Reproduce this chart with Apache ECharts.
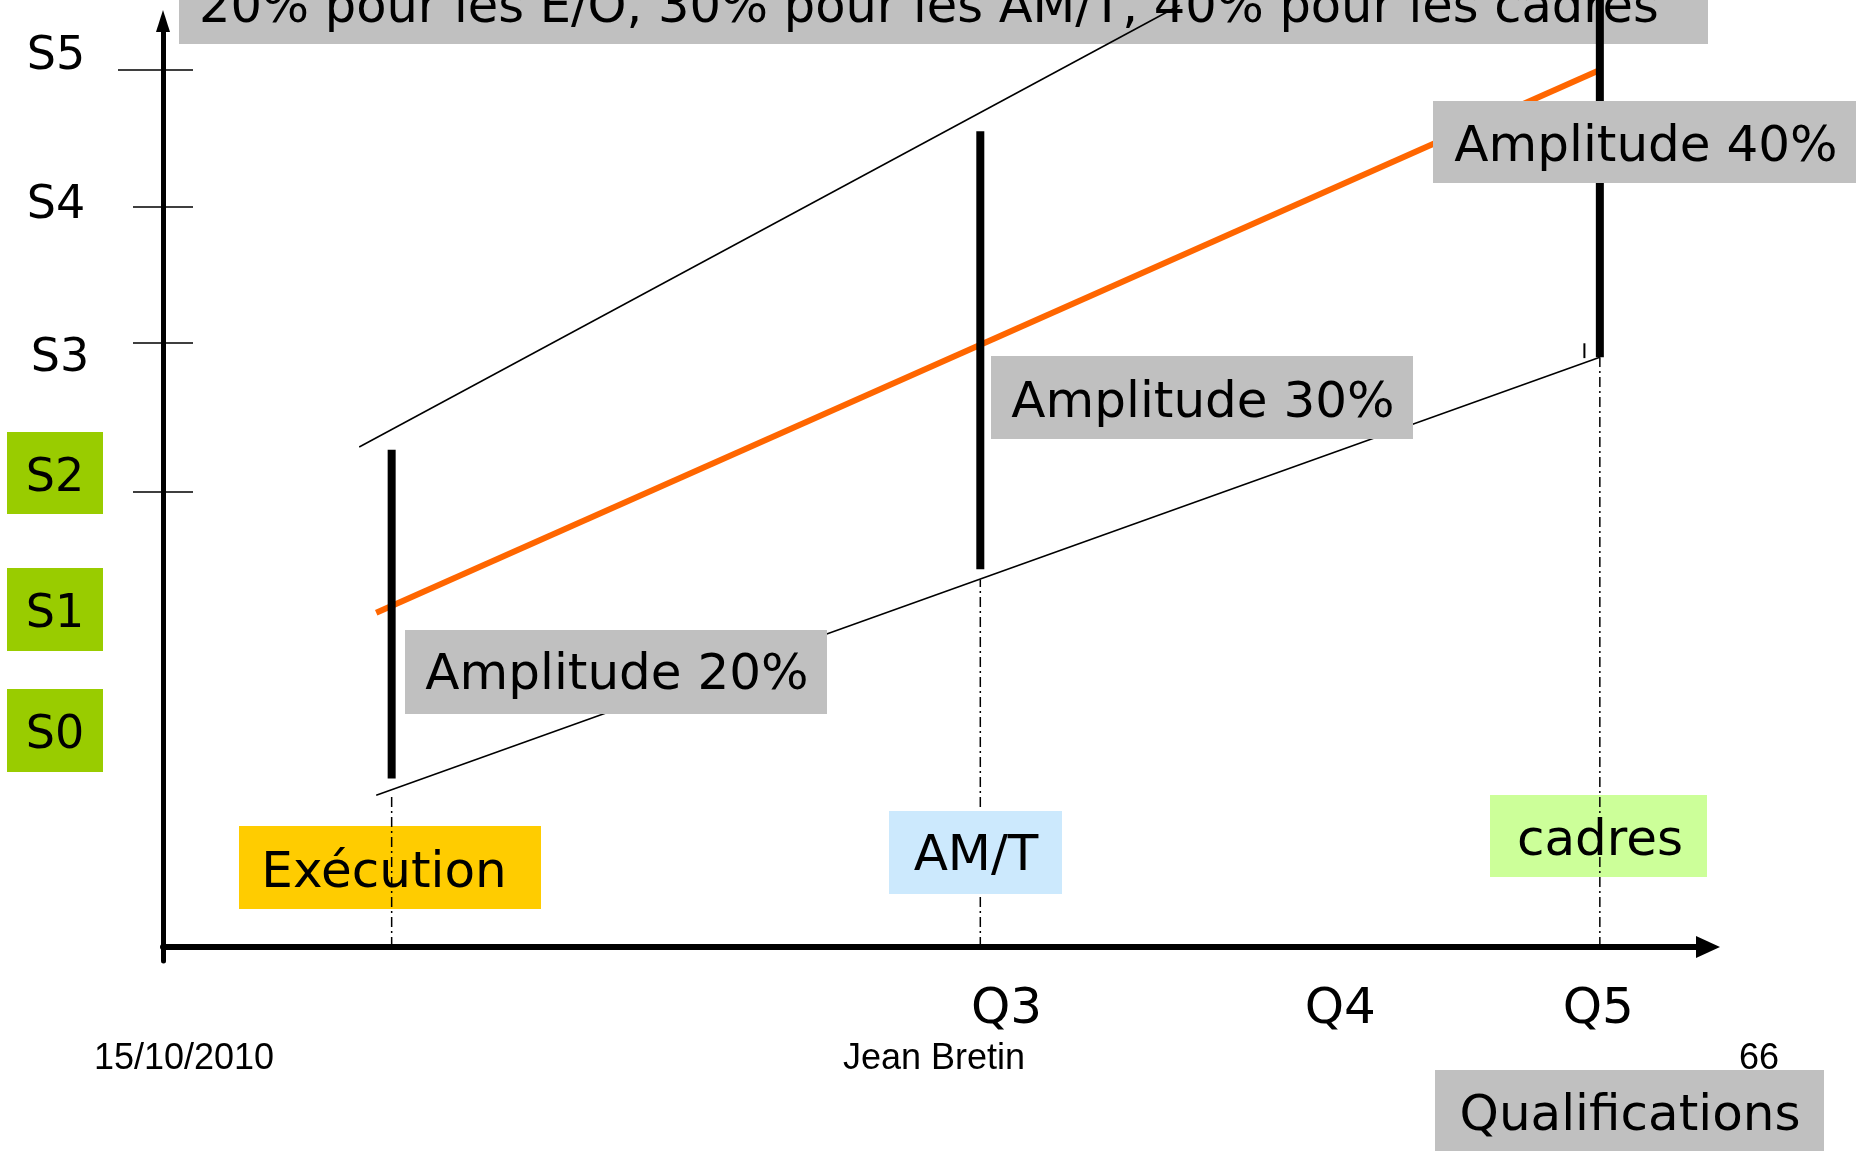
<!DOCTYPE html>
<html>
<head>
<meta charset="utf-8">
<script src="https://cdn.jsdelivr.net/npm/echarts@6/dist/echarts.min.js"></script>
<style>
  html, body { margin: 0; padding: 0; background: #ffffff; }
  #chart { width: 1856px; height: 1151px; }
</style>
</head>
<body>
<div id="chart"></div>
<script>
// Grades placed along the qualification axis
const grades = ['Exécution', 'AM/T', 'cadres'];
const gradeX = [14.8, 52.9, 93.0];
// Salary band of each grade (bottom and top of the vertical bar)
const bandLow = [18.2, 40.8, 63.7];
const bandHigh = [53.7, 88.1, 102.3];
const amplitudeLabels = ['Amplitude 20%', 'Amplitude 30%', 'Amplitude 40%'];
// Dash-dot guides drop from the lower envelope down to the axis
const guideTop = [16.2, 39.7, 63.7];
// Median trend and the two envelopes
const medianLine = [[13.8, 36.1], [93.0, 94.7]];
const upperLine = [[12.7, 54.0], [65.8, 101.7]];
const lowerLine = [[13.8, 16.4], [93.0, 63.7]];
const stubLine = [[92.0, 63.6], [92.0, 65.2]];
// Salary levels on the vertical axis
const sLevels = ['S2', 'S3', 'S4', 'S5'];
const sTicks = [49.2, 65.3, 79.9, 94.7];
// Qualification levels on the horizontal axis
const qLabels = ['Q3', 'Q4', 'Q5'];
const qTicks = [54.6, 76.2, 92.9];

const titleText = '20% pour les E/O, 30% pour les AM/T, 40% pour les cadres';
const FONT = '"DejaVu Sans", sans-serif';
const FOOT = '"Liberation Sans", Arial, sans-serif';

const chart = echarts.init(document.getElementById('chart'), null, { renderer: 'canvas' });

function seg(data, lineStyle, z) {
  return { type: 'line', data, symbol: 'none', clip: false, silent: true,
           animation: false, lineStyle, z };
}

const series = [];
gradeX.forEach((x, i) => series.push(
  seg([[x, 0], [x, guideTop[i]]], { color: '#000', width: 1.5, type: [10, 4, 2, 4] }, 2)));
series.push(seg(upperLine, { color: '#000', width: 1.5 }, 3));
series.push(seg(lowerLine, { color: '#000', width: 1.5 }, 3));
series.push(seg(medianLine, { color: '#ff6600', width: 6 }, 4));
gradeX.forEach((x, i) => series.push(
  seg([[x, bandLow[i]], [x, bandHigh[i]]], { color: '#000', width: 8, cap: 'butt' }, 5)));
series.push(seg(stubLine, { color: '#000', width: 2 }, 5));

function box(x, y, w, h, fill, text, tx, ty, size, z, align) {
  return [
    { type: 'rect', z, shape: { x, y, width: w, height: h }, style: { fill } },
    { type: 'text', z, x: tx, y: ty,
      style: { text, font: size + 'px ' + FONT, fill: '#000',
               align: align || 'center', verticalAlign: 'middle' } }
  ];
}
function label(text, tx, ty, size, family, align) {
  return { type: 'text', z: 10, x: tx, y: ty,
           style: { text, font: size + 'px ' + family, fill: '#000',
                    align: align || 'center', verticalAlign: 'middle' } };
}

const graphics = [].concat(
  box(179, 0, 1529, 44, '#c0c0c0', titleText, 199, 9, 49.5, 1, 'left'),
  box(405, 630, 422, 84, '#c0c0c0', amplitudeLabels[0], 617, 676, 50, 10),
  box(991, 356, 422, 83, '#c0c0c0', amplitudeLabels[1], 1203, 404, 50, 10),
  box(1433, 101, 423, 82, '#c0c0c0', amplitudeLabels[2], 1646, 148, 50, 10),
  box(239, 826, 302, 83, '#ffcc00', grades[0], 384, 874, 50, 1),
  box(889, 811, 173, 83, '#cce9fd', grades[1], 976, 857, 50, 10),
  box(1490, 795, 217, 82, '#ccff99', grades[2], 1600, 842, 50, 1),
  box(1435, 1070, 389, 81, '#c0c0c0', 'Qualifications', 1630, 1117, 50, 10),
  box(7, 432, 96, 82, '#99cc00', 'S2', 55, 479, 46, 10),
  box(7, 568, 96, 83, '#99cc00', 'S1', 55, 615, 46, 10),
  box(7, 689, 96, 83, '#99cc00', 'S0', 55, 736, 46, 10),
  [
    label('S5', 56, 57, 46, FONT),
    label('S4', 56, 206, 46, FONT),
    label('S3', 60, 359, 46, FONT),
    label('15/10/2010', 184, 1059, 36, FOOT),
    label('Jean Bretin', 934, 1059, 36, FOOT),
    label('66', 1759, 1059, 36, FOOT)
  ]
);

const yBase = { type: 'value', min: -1.5, max: 100, position: 'left', offset: 0,
                splitLine: { show: false }, axisLabel: { show: false } };

chart.setOption({
  animation: false,
  grid: { left: 163, right: 148, top: 21, bottom: 190, containLabel: false },
  xAxis: {
    type: 'value', min: 0, max: 100,
    splitLine: { show: false },
    axisTick: { show: false },
    axisLine: { show: true, onZero: true, symbol: ['none', 'triangle'], symbolSize: [22, 24],
                lineStyle: { color: '#000', width: 6 } },
    axisLabel: {
      customValues: qTicks, margin: 49, verticalAlign: 'middle',
      fontSize: 50, fontFamily: FONT, color: '#000',
      formatter: (v) => {
        let best = 0;
        qTicks.forEach((t, i) => { if (Math.abs(t - v) < Math.abs(qTicks[best] - v)) best = i; });
        return qLabels[best];
      }
    }
  },
  yAxis: [
    Object.assign({}, yBase, {
      axisLine: { show: true, symbol: ['none', 'triangle'], symbolSize: [14, 22],
                  lineStyle: { color: '#000', width: 5 } },
      axisTick: { show: true, inside: false, length: 30, customValues: sTicks.slice(0, 3),
                  lineStyle: { color: '#000', width: 1.5 } }
    }),
    Object.assign({}, yBase, {
      axisLine: { show: false },
      axisTick: { show: true, inside: false, length: 45, customValues: sTicks.slice(3),
                  lineStyle: { color: '#000', width: 1.5 } }
    }),
    Object.assign({}, yBase, {
      axisLine: { show: false },
      axisTick: { show: true, inside: true, length: 30, customValues: sTicks,
                  lineStyle: { color: '#000', width: 1.5 } }
    })
  ],
  series,
  graphic: { elements: graphics }
});
</script>
</body>
</html>
